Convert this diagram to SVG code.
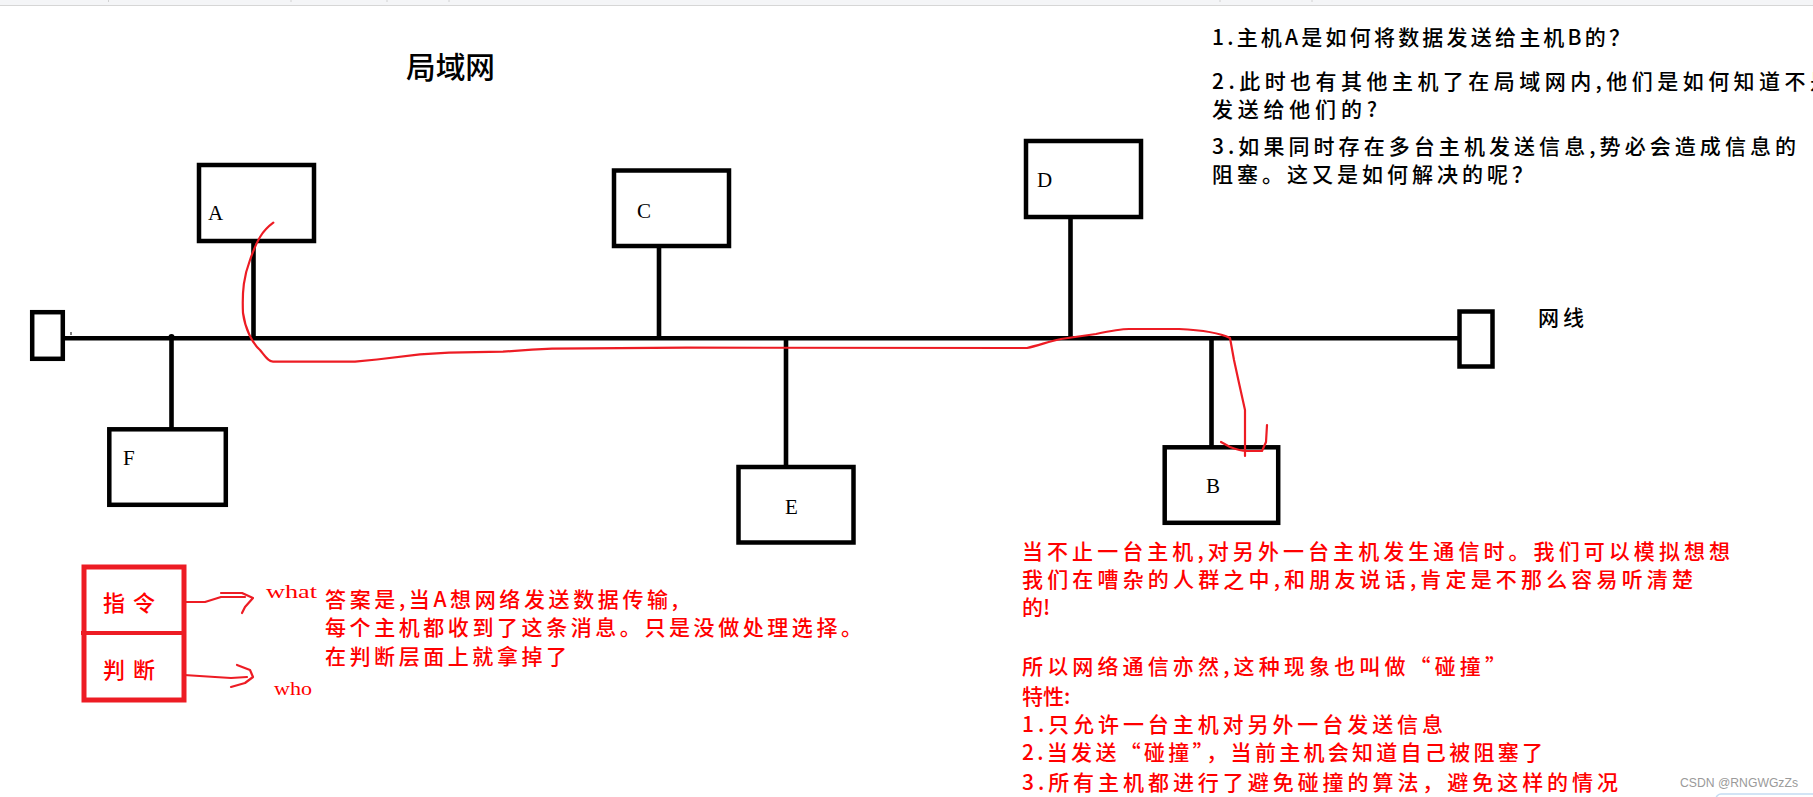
<svg xmlns="http://www.w3.org/2000/svg" width="1813" height="797" viewBox="0 0 1813 797">
<style>
.box{fill:#fff;stroke:#000;stroke-width:4.5}
.ln{stroke:#000;stroke-width:4.6;fill:none}
.lbl{font-family:"Liberation Serif","DejaVu Serif",serif;font-size:21px;fill:#000}
.cn{font-family:"Noto Sans CJK SC","Noto Sans",sans-serif;font-size:21px;font-weight:500}
.blk{fill:#000}
.red{fill:#ff0000}
.rs{stroke:#ed1c24;fill:none;stroke-width:2.2;stroke-linejoin:round;stroke-linecap:round}
.en{font-family:"Liberation Serif","DejaVu Serif",serif;font-size:18px;fill:#ff0000}
</style>
<rect x="0" y="0" width="1813" height="797" fill="#fff"/>
<g id="tabbar">
<rect x="0" y="0" width="1813" height="5" fill="#f4f5f7"/>
<line x1="0" y1="5.5" x2="1813" y2="5.5" stroke="#d6d6d6" stroke-width="1"/>
<g stroke="#d2d2d2" stroke-width="1">
<line x1="108.5" y1="0" x2="108.5" y2="2"/><line x1="291" y1="0" x2="291" y2="2"/><line x1="387" y1="0" x2="387" y2="2"/><line x1="449" y1="0" x2="449" y2="2"/><line x1="1220" y1="0" x2="1220" y2="2"/><line x1="1312" y1="0" x2="1312" y2="2"/>
</g>
</g>
<text id="title" class="cn blk" x="406" y="78" textLength="89" lengthAdjust="spacingAndGlyphs" style="font-size:30px">局域网</text>
<g id="connectors">
<line class="ln" x1="57" y1="338.3" x2="1459" y2="338.3"/>
<line class="ln" x1="253.5" y1="241" x2="253.5" y2="338"/>
<line class="ln" x1="171.5" y1="338" x2="171.5" y2="429"/>
<line class="ln" x1="659" y1="246" x2="659" y2="338"/>
<line class="ln" x1="1070.5" y1="217" x2="1070.5" y2="338"/>
<line class="ln" x1="786" y1="338" x2="786" y2="467"/>
<line class="ln" x1="1211.5" y1="338" x2="1211.5" y2="447"/>
<circle cx="171.5" cy="337" r="3" fill="#000"/>
<line x1="71" y1="332" x2="71" y2="335" stroke="#000" stroke-width="1"/>
</g>
<g id="term-left"><rect class="box" x="32.2" y="312.2" width="30.6" height="46.6"/></g>
<g id="term-right"><rect class="box" x="1459.5" y="311.5" width="33" height="55"/></g>
<g id="node-A"><rect class="box" x="199" y="165" width="115" height="76"/><text class="lbl" x="208" y="220">A</text></g>
<g id="node-C"><rect class="box" x="614" y="170.5" width="115" height="75.5"/><text class="lbl" x="637" y="218">C</text></g>
<g id="node-D"><rect class="box" x="1026" y="141" width="115" height="76"/><text class="lbl" x="1037" y="187">D</text></g>
<g id="node-E"><rect class="box" x="738.5" y="467" width="115" height="75.5"/><text class="lbl" x="785" y="514">E</text></g>
<g id="node-B"><rect class="box" x="1164.7" y="447.3" width="113.5" height="75.5"/><text class="lbl" x="1206" y="493">B</text></g>
<g id="node-F"><rect class="box" x="109.3" y="429.3" width="116.5" height="75.5"/><text class="lbl" x="123" y="465">F</text></g>
<text id="wangxian" class="cn blk" x="1538" y="325" textLength="46" lengthAdjust="spacing">网线</text>
<g id="red-path">
<path class="rs" d="M273.3,222.7 C262,231 257,240 250,260 C244,276 242,290 243,313 C245,328 252,343 260,350 C265,356 268,361.5 273,361.7 L355,361.7 L377,359.5 L420,354.3 L449,352.7 L503,351.7 L532,349.7 L552,348.7 L687,347.7 L1027,348 C1040,345 1050,341 1061,339 L1096,334 C1110,331 1120,329 1129,329 L1179,329 C1200,330 1220,333 1230,338 L1234,360 L1239,383 L1245,410 L1245,456"/>
<path class="rs" d="M1221,442 L1230,447 C1238,450 1242,451 1246,451 L1262,451 L1266,442 L1267,425"/>
</g>
<g id="questions" class="cn blk">
<text x="1212" y="45" textLength="418" lengthAdjust="spacing">1.主机A是如何将数据发送给主机B的？</text>
<text x="1212" y="88.5" textLength="619" lengthAdjust="spacing">2.此时也有其他主机了在局域网内,他们是如何知道不是</text>
<text x="1212" y="117" textLength="165" lengthAdjust="spacing">发送给他们的?</text>
<text x="1212" y="153.5" textLength="584" lengthAdjust="spacing">3.如果同时存在多台主机发送信息,势必会造成信息的</text>
<text x="1212" y="182" textLength="321" lengthAdjust="spacing">阻塞。这又是如何解决的呢？</text>
</g>
<g id="cmd-box">
<rect x="84" y="567" width="100" height="133" fill="none" stroke="#ed1c24" stroke-width="5"/>
<line x1="81" y1="633" x2="184" y2="633" stroke="#ed1c24" stroke-width="4"/>
<text class="cn red" x="103" y="611" textLength="52" lengthAdjust="spacing" style="font-size:22px">指令</text>
<text class="cn red" x="103" y="678" textLength="52" lengthAdjust="spacing" style="font-size:22px">判断</text>
</g>
<g id="arrows-lr">
<path class="rs" d="M184,602 L205,602 L221,597 L245,597"/>
<path class="rs" d="M221,593 L242,593 L253,598 L245,607 L242,613"/>
<path class="rs" d="M184,675 L215,677 L231,678 L247,677"/>
<path class="rs" d="M237,665 L250,670 L253,677 L245,683 L231,687"/>
</g>
<text class="en" x="266" y="598" textLength="51" lengthAdjust="spacingAndGlyphs">what</text>
<text class="en" x="274" y="695" textLength="38" lengthAdjust="spacingAndGlyphs">who</text>
<g id="answer" class="cn red">
<text x="325" y="607" textLength="353" lengthAdjust="spacing">答案是,当A想网络发送数据传输,</text>
<text x="325" y="635" textLength="537" lengthAdjust="spacing">每个主机都收到了这条消息。只是没做处理选择。</text>
<text x="325" y="663.5" textLength="242" lengthAdjust="spacing">在判断层面上就拿掉了</text>
</g>
<g id="collision" class="cn red">
<text x="1022" y="558.5" textLength="708" lengthAdjust="spacing">当不止一台主机,对另外一台主机发生通信时。我们可以模拟想想</text>
<text x="1022" y="587" textLength="671" lengthAdjust="spacing">我们在嘈杂的人群之中,和朋友说话,肯定是不那么容易听清楚</text>
<text x="1022" y="615">的!</text>
<text x="1022" y="673.5" textLength="484" lengthAdjust="spacing">所以网络通信亦然,这种现象也叫做“碰撞”</text>
<text x="1022" y="703.5">特性:</text>
<text x="1022" y="732" textLength="421" lengthAdjust="spacing">1.只允许一台主机对另外一台发送信息</text>
<text x="1022" y="760" textLength="521" lengthAdjust="spacing">2.当发送“碰撞”，当前主机会知道自己被阻塞了</text>
<text x="1022" y="790" textLength="596" lengthAdjust="spacing">3.所有主机都进行了避免碰撞的算法，避免这样的情况</text>
</g>
<text id="watermark" x="1680" y="787" font-family="Liberation Sans, Arial, sans-serif" font-size="13.5" fill="#9a9a9a" textLength="118" lengthAdjust="spacingAndGlyphs">CSDN @RNGWGzZs</text>
<rect x="1716" y="794" width="110" height="12" rx="5" fill="none" stroke="#c4dcf2" stroke-width="1.5"/>
</svg>
